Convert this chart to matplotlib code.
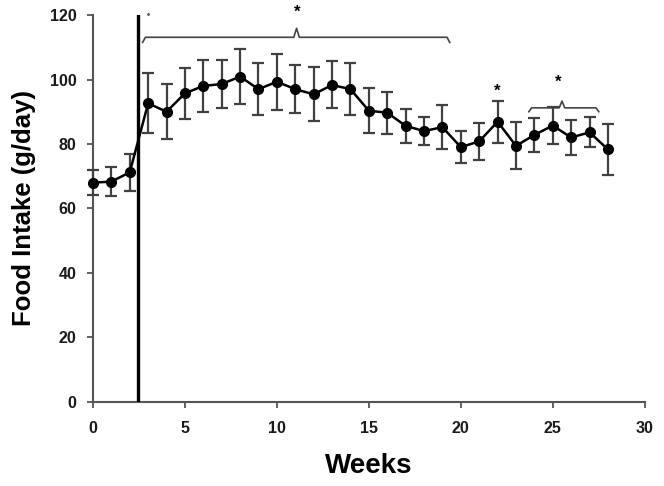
import matplotlib.pyplot as plt
import numpy as np

plt.rcParams['font.family'] = ['Liberation Sans', 'DejaVu Sans']

weeks = list(range(29))
intake = [68.0, 68.3, 71.2, 92.6, 90.0, 95.7, 98.0, 98.6, 100.9, 97.0,
          99.3, 97.0, 95.4, 98.3, 97.0, 90.3, 89.7, 85.6, 84.0, 85.2,
          79.0, 80.8, 86.9, 79.4, 82.8, 85.7, 82.0, 83.6, 78.3]
sem = [4.0, 4.5, 5.8, 9.3, 8.5, 8.0, 8.0, 7.5, 8.5, 8.0,
       8.7, 7.4, 8.4, 7.3, 8.0, 7.0, 6.5, 5.2, 4.4, 6.8,
       5.0, 5.8, 6.5, 7.3, 5.4, 5.8, 5.4, 4.7, 7.8]

surgery_week = 2.46
# brackets: (start, end, height, tip week) and star positions
brackets = [(2.7, 19.4, 113.1, 11.07), (23.7, 27.5, 91.2, 25.5)]
stars = [(11.1, 121.0), (22.0, 96.5), (25.3, 99.0)]

fig = plt.figure(figsize=(6.64, 4.86), dpi=100)
ax = fig.add_axes([0.14, 0.1735, 0.831, 0.7955])

ax.errorbar(weeks, intake, yerr=sem, color='black', lw=1.8, marker='o', ms=7,
            ecolor='#404040', elinewidth=1.6, capsize=4.5, capthick=1.6,
            clip_on=False, zorder=3)

ax.plot([surgery_week, surgery_week], [0, 120], color='black', lw=2.4, zorder=4)

for x0, x1, h, tip in brackets:
    d = 0.8 if x1 - x0 > 6 else 0.6
    xs = [x0, x0 + 0.15, tip - 0.15, tip, tip + 0.15, x1 - 0.15, x1]
    ys = [h - 2 * d, h, h, h + 3.5 * d, h, h, h - 2 * d]
    ax.plot(xs, ys, color='#444444', lw=1.2, clip_on=False)

for sx, sy in stars:
    ax.text(sx, sy, '*', ha='center', va='center', fontsize=12,
            fontweight='bold', clip_on=False)
ax.plot([3.0], [120.3], marker='.', ms=2, color='#555555', clip_on=False)

ax.set_xlim(0, 30)
ax.set_ylim(0, 120)
ax.set_xticks(range(0, 31, 5))
ax.set_yticks(range(0, 121, 20))
for s in ['top', 'right']:
    ax.spines[s].set_visible(False)
for s in ['left', 'bottom']:
    ax.spines[s].set_color('#555555')
    ax.spines[s].set_linewidth(1.5)
ax.tick_params(direction='out', length=4, width=1.3, color='#555555',
               labelsize=11.5, labelcolor='#1a1a1a')
ax.tick_params(axis='x', pad=10)
ax.tick_params(axis='y', pad=8)
for lab in ax.get_xticklabels() + ax.get_yticklabels():
    lab.set_fontweight('bold')

ax.set_xlabel('Weeks', fontsize=20, fontweight='bold', labelpad=12)
ax.set_ylabel('Food Intake (g/day)', fontsize=18.5, fontweight='bold', labelpad=10)

fig.savefig('out.png', dpi=100)
